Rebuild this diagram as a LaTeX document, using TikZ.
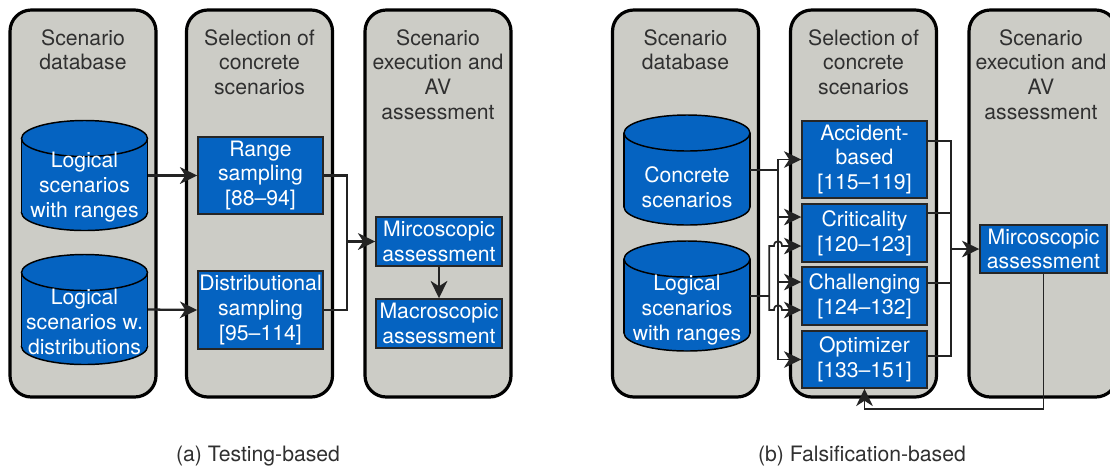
\documentclass[tikz,border=0pt]{standalone}
\usepackage{fontspec}
\setmainfont{TeX Gyre Heros}
\usetikzlibrary{arrows.meta}
\definecolor{panelgray}{RGB}{204,204,198}
\definecolor{boxblue}{RGB}{5,99,193}
\definecolor{inkgray}{RGB}{48,48,48}
\definecolor{linegray}{RGB}{35,35,35}

% database cylinder drawn around an (invisible) named node
\newcommand\dbshape[1]{%
  \begin{scope}[shift={(#1.center)}]
    \filldraw[draw=black, line width=1.1pt, fill=boxblue] (0,37) ellipse [x radius=63, y radius=18];
    \fill[boxblue] (-63,-37) rectangle (63,37);
    \draw[black, line width=1.1pt] (-63,-37) -- (-63,37) (63,-37) -- (63,37);
    \filldraw[draw=black, line width=1.1pt, fill=boxblue] (0,-37) ellipse [x radius=63, y radius=18];
  \end{scope}}

\begin{document}
\begin{tikzpicture}[x=0.75pt,y=-0.75pt,
  every node/.style={font=\fontsize{15.9}{18.6}\selectfont},
  panel/.style={draw=black, line width=2.4pt, fill=panelgray, rounded corners=16pt,
    minimum width=109.5pt, minimum height=290.25pt, inner sep=0pt},
  paneltitle/.style={anchor=north, align=center, text=inkgray, inner sep=0pt},
  bluebox/.style={draw=black!85, line width=1.1pt, fill=boxblue, text=white, align=center,
    inner sep=0pt, minimum width=93.75pt},
  cylbody/.style={inner sep=0pt, minimum width=94.5pt, minimum height=82.5pt},
  cyltext/.style={text=white, align=center, inner sep=0pt},
  conn/.style={draw=linegray, line width=1.7pt},
  thinconn/.style={draw=linegray, line width=1.25pt},
  tip/.style={-{Stealth[length=13pt,width=12.5pt,inset=4pt]}},
  captiontext/.style={text=inkgray}
]
\useasboundingbox (0,0) rectangle (1110,469);
\fill[white] (0,0) rectangle (1110,469);
\clip (0,0) rectangle (1110,469);

% ---------------- (a) testing-based ----------------
\node[panel] (pa1) at (83,203.5) {};
\node[panel] (pa2) at (259.5,203.5) {};
\node[panel] (pa3) at (438,203.5) {};
\node[paneltitle] (ta1) at (pa1.center |- 0,29) {Scenario\\database};
\node[paneltitle] (ta2) at (pa2.center |- 0,29) {Selection of\\concrete\\scenarios};
\node[paneltitle] (ta3) at (pa3.center |- 0,29) {Scenario\\execution and\\AV\\assessment};

\node[cylbody] (cylA) at (84.5,175.5) {};
\dbshape{cylA}
\node[cyltext] (cylAtext) at (84.5,187) {Logical\\scenarios\\with ranges};
\node[cylbody] (cylB) at (84.5,309.5) {};
\dbshape{cylB}
\node[cyltext] (cylBtext) at (84.5,322) {Logical\\scenarios w.\\distributions};

\node[bluebox, minimum height=57.75pt] (range) at (260.5,175.5) {Range\\sampling\\{[88–94]}};
\node[bluebox, minimum height=58.5pt] (dist) at (260.5,310) {Distributional\\sampling\\{[95–114]}};
\node[bluebox, minimum width=94.5pt, minimum height=36.75pt] (microA) at (439,241.5) {Mircoscopic\\assessment};
\node[bluebox, minimum width=94.5pt, minimum height=36.75pt] (macroA) at (439,323.5) {Macroscopic\\assessment};

\draw[conn, tip] (cylA.east) -- (range.west);
\draw[conn, tip] (cylB.east) -- (dist.west);
\draw[conn] (range.east) -| ([xshift=-21pt]microA.west);
\draw[conn] (dist.east) -| ([xshift=-21pt]microA.west);
\draw[conn, tip] ([xshift=-21pt]microA.west) -- (microA.west);
\draw[conn, tip] (microA.south) -- (macroA.north);

\node[captiontext] (capA) at (258,456) {(a) Testing-based};

% ---------------- (b) falsification-based ----------------
\node[panel] (pb1) at (685.5,203.5) {};
\node[panel] (pb2) at (863.5,203.5) {};
\node[panel, minimum width=111pt] (pb3) at (1043,203.5) {};
\node[paneltitle] (tb1) at (pb1.center |- 0,29) {Scenario\\database};
\node[paneltitle] (tb2) at (pb2.center |- 0,29) {Selection of\\concrete\\scenarios};
\node[paneltitle] (tb3) at (1041,29) {Scenario\\execution and\\AV\\assessment};

\node[cylbody] (cylC) at (687,170) {};
\dbshape{cylC}
\node[cyltext] (cylCtext) at (687,187.5) {Concrete\\scenarios};
\node[cylbody] (cylL) at (687,296) {};
\dbshape{cylL}
\node[cyltext] (cylLtext) at (687,310) {Logical\\scenarios\\with ranges};

\node[bluebox, minimum height=57.75pt] (acc) at (864.5,159.5) {Accident-\\based\\{[115–119]}};
\node[bluebox, minimum height=43.5pt] (crit) at (864.5,233) {Criticality\\{[120–123]}};
\node[bluebox, minimum height=43.5pt] (chal) at (864.5,296) {Challenging\\{[124–132]}};
\node[bluebox, minimum height=42.75pt] (opt) at (864.5,359.5) {Optimizer\\{[133–151]}};
\node[bluebox, minimum width=95.25pt, minimum height=36pt] (microB) at (1043.5,249) {Mircoscopic\\assessment};

% concrete scenarios feed every method
\draw[thinconn] (cylC.east) -- ++(28,0) coordinate (jc);
\draw[thinconn, tip] (jc) |- (acc.west);
\draw[thinconn, tip] (jc) |- ([yshift=12pt]crit.west);
\draw[thinconn, tip] (jc) |- ([yshift=10.5pt]chal.west);
\draw[thinconn, tip] (jc) |- (opt.west);
% logical scenarios hop over the concrete bus
\draw[thinconn] (cylL.east) -- ++(19,0) coordinate (jl);
\draw[thinconn, tip] (jl) |- (774,246) .. controls (774,239.5) and (782,239.5) .. (782,246)
  -- ([yshift=-9.75pt]crit.west);
\draw[thinconn, tip] (jl) |- (774,310) .. controls (774,303.5) and (782,303.5) .. (782,310)
  -- ([yshift=-10.5pt]chal.west);

% all methods report to the microscopic assessment
\draw[thinconn] ([yshift=13.9pt]acc.east) -| ([xshift=-21pt]microB.west);
\draw[thinconn] ([yshift=15pt]crit.east) -| ([xshift=-21pt]microB.west);
\draw[thinconn] ([yshift=9.75pt]chal.east) -| ([xshift=-21pt]microB.west);
\draw[thinconn] ([yshift=2.6pt]opt.east) -| ([xshift=-21pt]microB.west);
\draw[thinconn, tip] ([xshift=-21pt]microB.west) -- (microB.west);
% feedback loop to the optimizer
\draw[thinconn, tip] (microB.south) -- ++(0,135) -| (opt.south);

\node[captiontext] (capB) at (862,456) {(b) Falsification-based};
\end{tikzpicture}
\end{document}
